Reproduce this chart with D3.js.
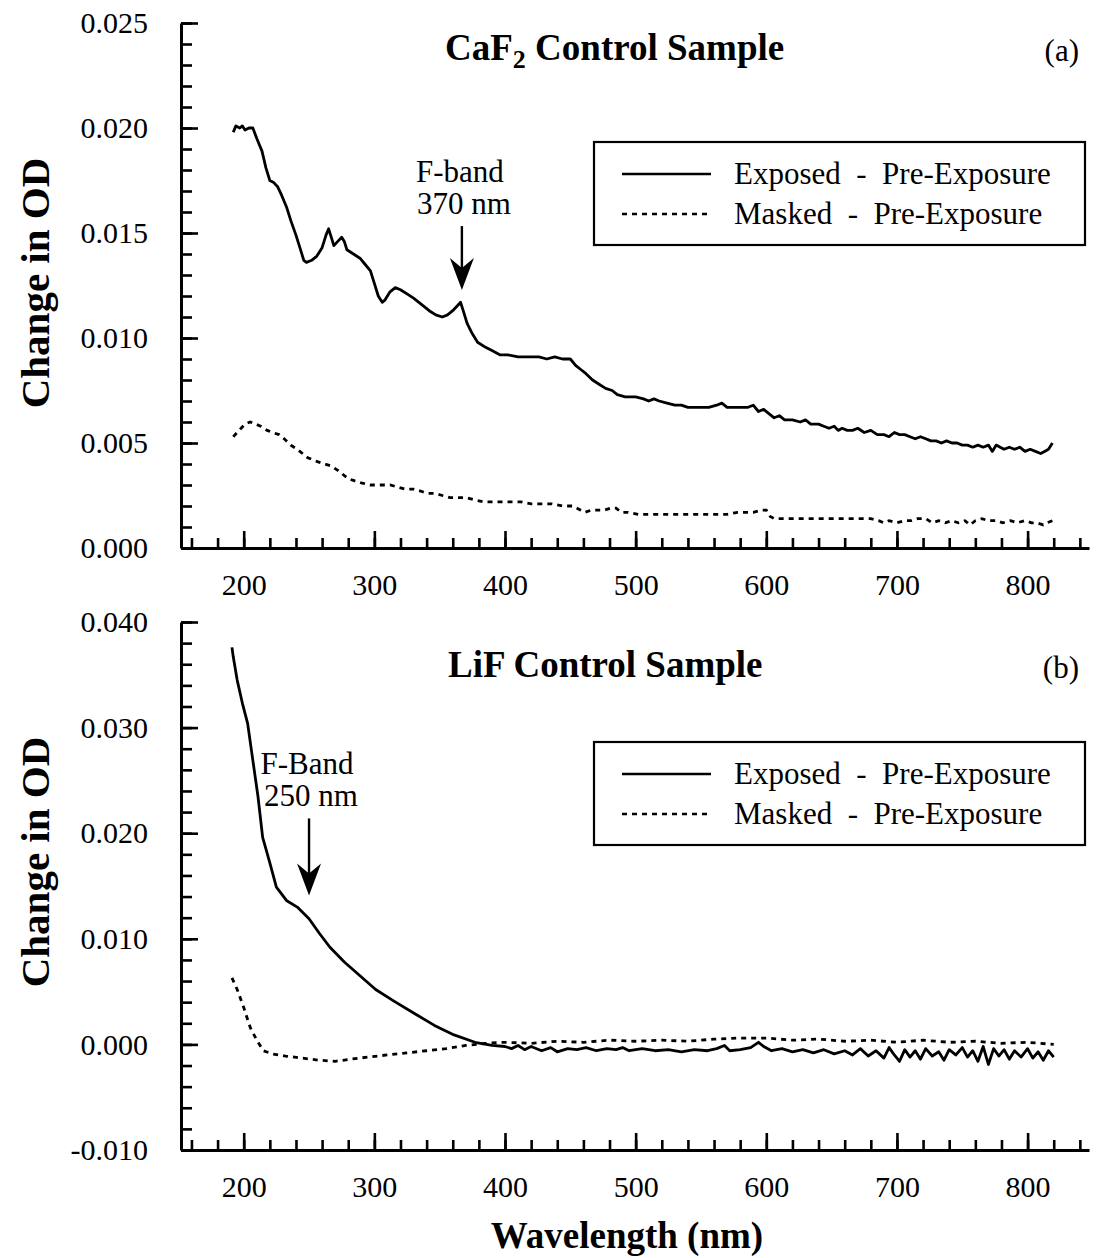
<!DOCTYPE html>
<html>
<head>
<meta charset="utf-8">
<script src="https://cdn.jsdelivr.net/npm/d3@7"></script>
<style>
  body { margin: 0; background: #fff; }
  svg { display: block; font-family: "Liberation Serif", "Times New Roman", serif; }
</style>
</head>
<body>
<svg id="chart" width="1096" height="1258"></svg>
<script>
// wavelength (nm) vs change in optical density
const wavelengthTicks = [200, 300, 400, 500, 600, 700, 800];
const caf2OdTicks = [0.0, 0.005, 0.01, 0.015, 0.02, 0.025];
const lifOdTicks = [-0.01, 0.0, 0.01, 0.02, 0.03, 0.04];
const seriesNames = ["Exposed  -  Pre-Exposure", "Masked  -  Pre-Exposure"];

// (a) CaF2 control sample
const caf2Exposed = [
  [192,0.0198],[194,0.0201],[197,0.0200],[199,0.0201],[201,0.0199],[204,0.0200],[207,0.0200],
  [210,0.0195],[214,0.0189],[217,0.0181],[220,0.0175],[223,0.0174],[226,0.0172],[229,0.0168],
  [233,0.0162],[236,0.0156],[240,0.0149],[243,0.0143],[246,0.0137],[248,0.0136],[252,0.0137],
  [256,0.0139],[260,0.0143],[263,0.0149],[265,0.0152],[267,0.0148],[269,0.0144],[272,0.0146],
  [275,0.0148],[277,0.0146],[279,0.0142],[284,0.0140],[289,0.0138],[293,0.0135],[297,0.0132],
  [300,0.0126],[303,0.0120],[306,0.0117],[308,0.0118],[312,0.0122],[316,0.0124],[320,0.0123],
  [325,0.0121],[330,0.0119],[336,0.0116],[342,0.0113],[347,0.0111],[352,0.0110],[356,0.0111],
  [360,0.0113],[363,0.0115],[366,0.0117],[368,0.0113],[371,0.0107],[375,0.0102],[379,0.0098],
  [384,0.0096],[390,0.0094],[396,0.0092],[402,0.0092],[410,0.0091],[418,0.0091],[426,0.0091],
  [432,0.0090],[438,0.0091],[444,0.0090],[450,0.0090],[454,0.0087],[458,0.0085],[462,0.0083],
  [467,0.0080],[472,0.0078],[477,0.0076],[482,0.0075],[486,0.0073],[492,0.0072],[500,0.0072],
  [506,0.0071],[510,0.0070],[514,0.0071],[518,0.0070],[524,0.0069],[530,0.0068],[535,0.0068],
  [540,0.0067],[548,0.0067],[556,0.0067],[562,0.0068],[566,0.0069],[570,0.0067],[578,0.0067],
  [586,0.0067],[590,0.0068],[594,0.0065],[598,0.0066],[602,0.0064],[606,0.0062],[610,0.0063],
  [614,0.0061],[620,0.0061],[626,0.0060],[630,0.0061],[634,0.0059],[640,0.0059],[644,0.0058],
  [648,0.0057],[652,0.0058],[655,0.0056],[658,0.0057],[662,0.0056],[666,0.0056],[670,0.0057],
  [675,0.0055],[680,0.0056],[685,0.0054],[690,0.0054],[694,0.0053],[698,0.0055],[702,0.0054],
  [706,0.0054],[710,0.0053],[714,0.0052],[718,0.0053],[722,0.0052],[726,0.0051],[730,0.0051],
  [734,0.0050],[738,0.0051],[742,0.0050],[746,0.0050],[750,0.0049],[754,0.0049],[758,0.0048],
  [762,0.0049],[766,0.0048],[770,0.0049],[773,0.0046],[776,0.0049],[779,0.0048],[782,0.0047],
  [786,0.0048],[790,0.0047],[794,0.0048],[798,0.0046],[802,0.0047],[806,0.0046],[810,0.0045],
  [813,0.0046],[816,0.0047],[819,0.0050]
];
const caf2Masked = [
  [192,0.0053],[195,0.0055],[198,0.0057],[201,0.0059],[205,0.0060],[209,0.0059],[213,0.0058],
  [218,0.0056],[222,0.0055],[227,0.0054],[231,0.0052],[236,0.0049],[241,0.0047],[245,0.0045],
  [249,0.0043],[253,0.0042],[257,0.0041],[262,0.0040],[267,0.0039],[272,0.0037],[276,0.0035],
  [280,0.0033],[285,0.0032],[290,0.0031],[297,0.0030],[305,0.0030],[312,0.0030],[318,0.0029],
  [324,0.0028],[330,0.0028],[336,0.0027],[340,0.0026],[346,0.0026],[352,0.0025],[358,0.0024],
  [364,0.0024],[370,0.0024],[376,0.0023],[383,0.0022],[390,0.0022],[398,0.0022],[405,0.0022],
  [412,0.0022],[420,0.0021],[428,0.0021],[436,0.0021],[444,0.0020],[452,0.0020],[458,0.0018],
  [461,0.0017],[466,0.0018],[472,0.0018],[476,0.0018],[481,0.0019],[485,0.0019],[489,0.0017],
  [494,0.0017],[502,0.0016],[510,0.0016],[520,0.0016],[530,0.0016],[540,0.0016],[550,0.0016],
  [560,0.0016],[570,0.0016],[578,0.0017],[584,0.0017],[590,0.0017],[596,0.0018],[600,0.0018],
  [603,0.0015],[606,0.0014],[612,0.0014],[620,0.0014],[630,0.0014],[640,0.0014],[650,0.0014],
  [660,0.0014],[670,0.0014],[680,0.0014],[686,0.0013],[690,0.0012],[694,0.0013],[700,0.0012],
  [706,0.0013],[711,0.0013],[716,0.0014],[722,0.0014],[727,0.0012],[732,0.0013],[737,0.0012],
  [742,0.0013],[747,0.0012],[752,0.0013],[756,0.0011],[760,0.0013],[765,0.0014],[770,0.0013],
  [776,0.0013],[781,0.0012],[787,0.0013],[792,0.0012],[798,0.0013],[803,0.0012],[807,0.0012],
  [812,0.0011],[815,0.0012],[819,0.0013]
];

// (b) LiF control sample
const lifExposed = [
  [191,0.0376],[192,0.0367],[195,0.0345],[199,0.0323],[203,0.0304],[207,0.0269],[211,0.0234],
  [214.5,0.0196],[220,0.0172],[225,0.0149],[233,0.0136],[241,0.0130],[250,0.0119],[258,0.0105],
  [266,0.0092],[277,0.0078],[289,0.0065],[301,0.0052],[315,0.0041],[331,0.0029],[346,0.0018],
  [361,0.0009],[377,0.0002],[390,-0.0001],[400,-0.0002],[405,-0.0004],[410,-0.0001],[415,-0.0005],
  [420,-0.0002],[428,-0.0006],[435,-0.0003],[440,-0.0007],[448,-0.0004],[455,-0.0005],[462,-0.0003],
  [470,-0.0006],[478,-0.0004],[485,-0.0005],[490,-0.0003],[495,-0.0006],[505,-0.0004],[515,-0.0006],
  [525,-0.0005],[535,-0.0007],[545,-0.0005],[555,-0.0006],[562,-0.0004],[568,-0.0001],[572,-0.0006],
  [580,-0.0005],[588,-0.0003],[594,0.0002],[598,-0.0002],[604,-0.0006],[612,-0.0004],[620,-0.0007],
  [628,-0.0005],[636,-0.0008],[644,-0.0005],[652,-0.0009],[660,-0.0006],[666,-0.0010],[672,-0.0004],
  [678,-0.0011],[684,-0.0006],[690,-0.0013],[694,-0.0003],[698,-0.0010],[702,-0.0016],[706,-0.0005],
  [710,-0.0012],[714,-0.0006],[718,-0.0014],[722,-0.0004],[727,-0.0011],[732,-0.0007],[736,-0.0015],
  [740,-0.0005],[745,-0.0010],[750,-0.0003],[754,-0.0012],[758,-0.0006],[762,-0.0016],[766,-0.0002],
  [770,-0.0019],[774,-0.0004],[778,-0.0011],[782,-0.0005],[786,-0.0014],[790,-0.0006],[795,-0.0012],
  [800,-0.0004],[804,-0.0013],[808,-0.0007],[812,-0.0015],[816,-0.0006],[820,-0.0012]
];
const lifMasked = [
  [191,0.0063],[195,0.0052],[200,0.0035],[205,0.0016],[210,0.0004],[215,-0.0006],[222,-0.0009],
  [232,-0.0011],[245,-0.0013],[258,-0.0015],[270,-0.0016],[282,-0.0014],[295,-0.0012],[310,-0.0010],
  [325,-0.0008],[340,-0.0006],[355,-0.0004],[370,-0.0001],[385,0.0001],[400,0.0002],[420,0.0001],
  [440,0.0003],[460,0.0002],[480,0.0004],[500,0.0003],[520,0.0004],[540,0.0003],[560,0.0005],
  [580,0.0006],[600,0.0006],[620,0.0004],[640,0.0005],[660,0.0003],[680,0.0004],[700,0.0002],
  [720,0.0004],[740,0.0002],[760,0.0003],[780,0.0001],[800,0.0002],[820,0.0000]
];

// F-band arrows: wavelength, tail od, tip od
const caf2Band = { nm: 367, label: ["F-band", "370 nm"], tail: 0.01533, tip: 0.01229 };
const lifBand = { nm: 250, label: ["F-Band", "250 nm"], tail: 0.0214, tip: 0.0141 };

const svg = d3.select("#chart");

// tick labels use a plain hyphen for negatives, like the original
const odFormat = (d) => d3.format(".3f")(d).replace("\u2212", "-");

class SpectrumPanel {
  constructor(_config, _data) {
    this.config = _config;
    this.data = _data;
    this.initVis();
  }

  initVis() {
    let vis = this;
    let c = vis.config;

    vis.x = d3.scaleLinear().domain([152, 847]).range([181, 1089]);
    vis.y = d3.scaleLinear().domain(c.yDomain).range([c.bottom, c.top]);

    vis.g = svg.append("g");

    // minor ticks first, majors on top
    let xMinor = d3.range(160, 841, 20);
    vis.g.append("g")
      .attr("transform", `translate(0,${c.bottom})`)
      .call(d3.axisBottom(vis.x).tickValues(xMinor).tickSize(-10).tickSizeOuter(0).tickFormat(""))
      .call((g) => g.select(".domain").remove());

    vis.g.append("g")
      .attr("transform", "translate(181,0)")
      .call(d3.axisLeft(vis.y).tickValues(c.yMinor).tickSize(-11).tickSizeOuter(0).tickFormat(""))
      .call((g) => g.select(".domain").remove());

    vis.xAxis = vis.g.append("g")
      .attr("transform", `translate(0,${c.bottom})`)
      .call(d3.axisBottom(vis.x).tickValues(wavelengthTicks).tickSize(-17).tickSizeOuter(0).tickPadding(26));

    vis.yAxis = vis.g.append("g")
      .attr("transform", "translate(181,0)")
      .call(d3.axisLeft(vis.y).tickValues(c.yTicks).tickSize(-17).tickSizeOuter(0).tickPadding(33)
        .tickFormat(odFormat));

    vis.g.selectAll(".tick line").attr("stroke", "#000").attr("stroke-width", 2.6);
    vis.g.selectAll(".domain").attr("stroke", "#000").attr("stroke-width", 3);
    vis.g.selectAll(".tick text")
      .attr("font-family", "'Liberation Serif', 'Times New Roman', serif")
      .attr("font-size", 30)
      .attr("fill", "#000");

    // data lines
    let line = d3.line().x((d) => vis.x(d[0])).y((d) => vis.y(d[1]));
    vis.g.append("path").datum(vis.data.exposed)
      .attr("fill", "none").attr("stroke", "#000").attr("stroke-width", 2.8)
      .attr("stroke-linejoin", "round").attr("d", line);
    vis.g.append("path").datum(vis.data.masked)
      .attr("fill", "none").attr("stroke", "#000").attr("stroke-width", 2.8)
      .attr("stroke-dasharray", "5,5").attr("d", line);

    // title and panel letter
    let title = vis.g.append("text")
      .attr("x", c.titleX).attr("y", c.titleY)
      .attr("font-size", 37).attr("font-weight", "bold");
    c.title.forEach((part) => {
      let t = title.append("tspan").text(part.text);
      if (part.sub) t.attr("font-size", 26).attr("dy", 8);
      if (part.after) t.attr("dy", -8);
    });
    vis.g.append("text")
      .attr("x", 1079).attr("y", c.titleY + 1)
      .attr("text-anchor", "end").attr("font-size", 31).text(c.letter);

    // y axis title
    vis.g.append("text")
      .attr("transform", `translate(49,${c.labelY}) rotate(-90)`)
      .attr("text-anchor", "middle").attr("font-size", 41).attr("font-weight", "bold")
      .text("Change in OD");

    vis.drawLegend();
    vis.drawBand();
  }

  drawLegend() {
    let vis = this;
    let top = vis.config.legendTop;
    let lg = vis.g.append("g");
    lg.append("rect")
      .attr("x", 594).attr("y", top).attr("width", 491).attr("height", 103)
      .attr("fill", "#fff").attr("stroke", "#000").attr("stroke-width", 2.2);
    seriesNames.forEach((name, i) => {
      let yy = top + 32 + i * 40;
      lg.append("line")
        .attr("x1", 622).attr("x2", 711).attr("y1", yy).attr("y2", yy)
        .attr("stroke", "#000").attr("stroke-width", 2.4)
        .attr("stroke-dasharray", i === 1 ? "5,5" : null);
      lg.append("text")
        .attr("x", 734).attr("y", yy + 10)
        .attr("font-size", 31).style("white-space", "pre").text(name);
    });
  }

  drawBand() {
    let vis = this;
    let b = vis.config.band;
    let bx = vis.x(b.nm);
    let tailY = vis.y(b.tail);
    let tipY = vis.y(b.tip);
    vis.g.append("text")
      .attr("x", bx - 2).attr("y", tailY - 44)
      .attr("text-anchor", "middle").attr("font-size", 31).text(b.label[0]);
    vis.g.append("text")
      .attr("x", bx + 2).attr("y", tailY - 12)
      .attr("text-anchor", "middle").attr("font-size", 31).text(b.label[1]);
    vis.g.append("line")
      .attr("x1", bx).attr("x2", bx).attr("y1", tailY).attr("y2", tipY - 10)
      .attr("stroke", "#000").attr("stroke-width", 2.4);
    vis.g.append("path")
      .attr("d", `M${bx},${tipY} L${bx - 12},${tipY - 32} L${bx},${tipY - 22} L${bx + 12},${tipY - 32} Z`)
      .attr("fill", "#000");
  }
}

new SpectrumPanel({
  top: 23, bottom: 548,
  yDomain: [0, 0.025],
  yTicks: caf2OdTicks,
  yMinor: d3.range(0, 26).map((i) => i * 0.001),
  title: [{ text: "CaF" }, { text: "2", sub: true }, { text: " Control Sample", after: true }],
  titleX: 445, titleY: 60, letter: "(a)",
  labelY: 283, legendTop: 142, band: caf2Band
}, { exposed: caf2Exposed, masked: caf2Masked });

new SpectrumPanel({
  top: 622, bottom: 1150,
  yDomain: [-0.01, 0.04],
  yTicks: lifOdTicks,
  yMinor: d3.range(0, 26).map((i) => -0.01 + i * 0.002),
  title: [{ text: "LiF Control Sample" }],
  titleX: 448, titleY: 677, letter: "(b)",
  labelY: 862, legendTop: 742, band: lifBand
}, { exposed: lifExposed, masked: lifMasked });

// shared x axis title
svg.append("text")
  .attr("x", 627).attr("y", 1248)
  .attr("text-anchor", "middle").attr("font-size", 37).attr("font-weight", "bold")
  .text("Wavelength (nm)");
</script>
</body>
</html>
